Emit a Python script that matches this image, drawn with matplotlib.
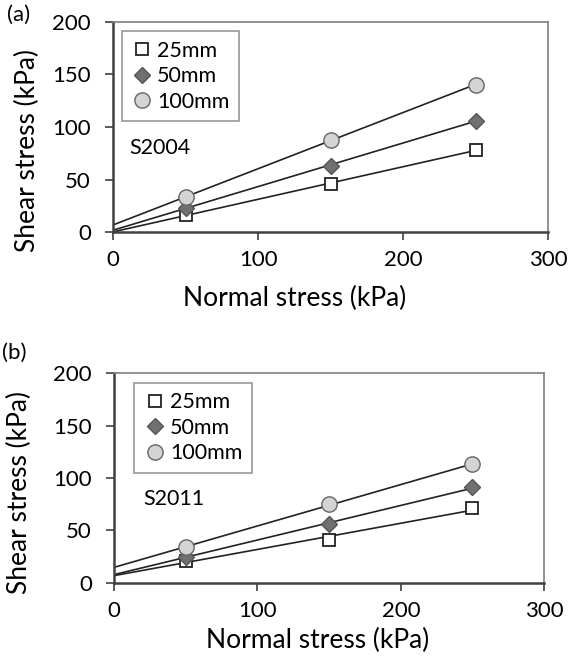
import matplotlib.pyplot as plt
import numpy as np

plt.rcParams['font.family'] = ['Lato', 'DejaVu Sans']

# Normal stress (kPa)
normal = [50, 150, 250]

# S2004 shear stress (kPa)
s2004_25 = [16, 46, 78]
s2004_50 = [23, 63, 106]
s2004_100 = [33, 88, 140]

# S2011 shear stress (kPa)
s2011_25 = [21, 41, 71]
s2011_50 = [25, 56, 91]
s2011_100 = [34, 75, 113]

sizes = ['25mm', '50mm', '100mm']
styles = [dict(marker='s', mfc='white', mec='#222222', ms=9, mew=1.3),
          dict(marker='D', mfc='#707070', mec='#555555', ms=8, mew=1.0),
          dict(marker='o', mfc='#d4d4d4', mec='#666666', ms=11, mew=1.0)]

fig = plt.figure(figsize=(5.68, 6.63), dpi=100)
ax1 = fig.add_axes([0.199, 0.650, 0.766, 0.317])
ax2 = fig.add_axes([0.201, 0.121, 0.757, 0.316])


def draw(ax, series, name, tx, ty, leg_anchor, xlab_pos, ylab_pos):
    xs = np.array(normal)
    for vals, lab, st in zip(series, sizes, styles):
        # fitted trend line, drawn from x=0 to the last point
        k, b = np.polyfit(xs, vals, 1)
        xl = np.array([0, 250])
        ax.plot(xl, k * xl + b, color='#222222', lw=1.2, zorder=2)
        ax.plot(xs, vals, ls='none', label=lab, zorder=3, **st)
    ax.set_xlim(0, 300)
    ax.set_ylim(0, 200)
    ax.set_xticks([0, 100, 200, 300])
    ax.set_yticks([0, 50, 100, 150, 200])
    ax.tick_params(labelsize=16, length=6, width=1.2, color='#404040')
    ax.tick_params(axis='x', pad=7)
    ax.tick_params(axis='y', pad=10)
    for s in ['top', 'right']:
        ax.spines[s].set_color('#7f7f7f')
        ax.spines[s].set_linewidth(1.2)
    for s in ['left', 'bottom']:
        ax.spines[s].set_color('#404040')
        ax.spines[s].set_linewidth(1.8)
    ax.set_xlabel('Normal stress (kPa)', fontsize=19, va='center')
    ax.xaxis.set_label_coords(*xlab_pos)
    ax.set_ylabel('Shear stress (kPa)', fontsize=19)
    ax.yaxis.set_label_coords(*ylab_pos)
    ax.text(tx, ty, name, fontsize=15.5, va='center', ha='left')
    leg = ax.legend(loc='upper left', bbox_to_anchor=leg_anchor, fontsize=15.5,
                    frameon=True, fancybox=False, handletextpad=0.2,
                    handlelength=1.0, borderpad=0.45, labelspacing=0.25,
                    borderaxespad=0)
    leg.get_frame().set_edgecolor('#7f7f7f')
    leg.get_frame().set_linewidth(1.2)


draw(ax1, [s2004_25, s2004_50, s2004_100], 'S2004', 11, 80, (0.02, 0.955),
     (0.418, -0.314), (-0.168, 0.39))
draw(ax2, [s2011_25, s2011_50, s2011_100], 'S2011', 20, 80, (0.047, 0.955),
     (0.474, -0.273), (-0.19, 0.43))

fig.text(0.012, 0.977, '(a)', fontsize=16, va='center')
fig.text(0.004, 0.468, '(b)', fontsize=16, va='center')

fig.savefig('out.png', dpi=100)
